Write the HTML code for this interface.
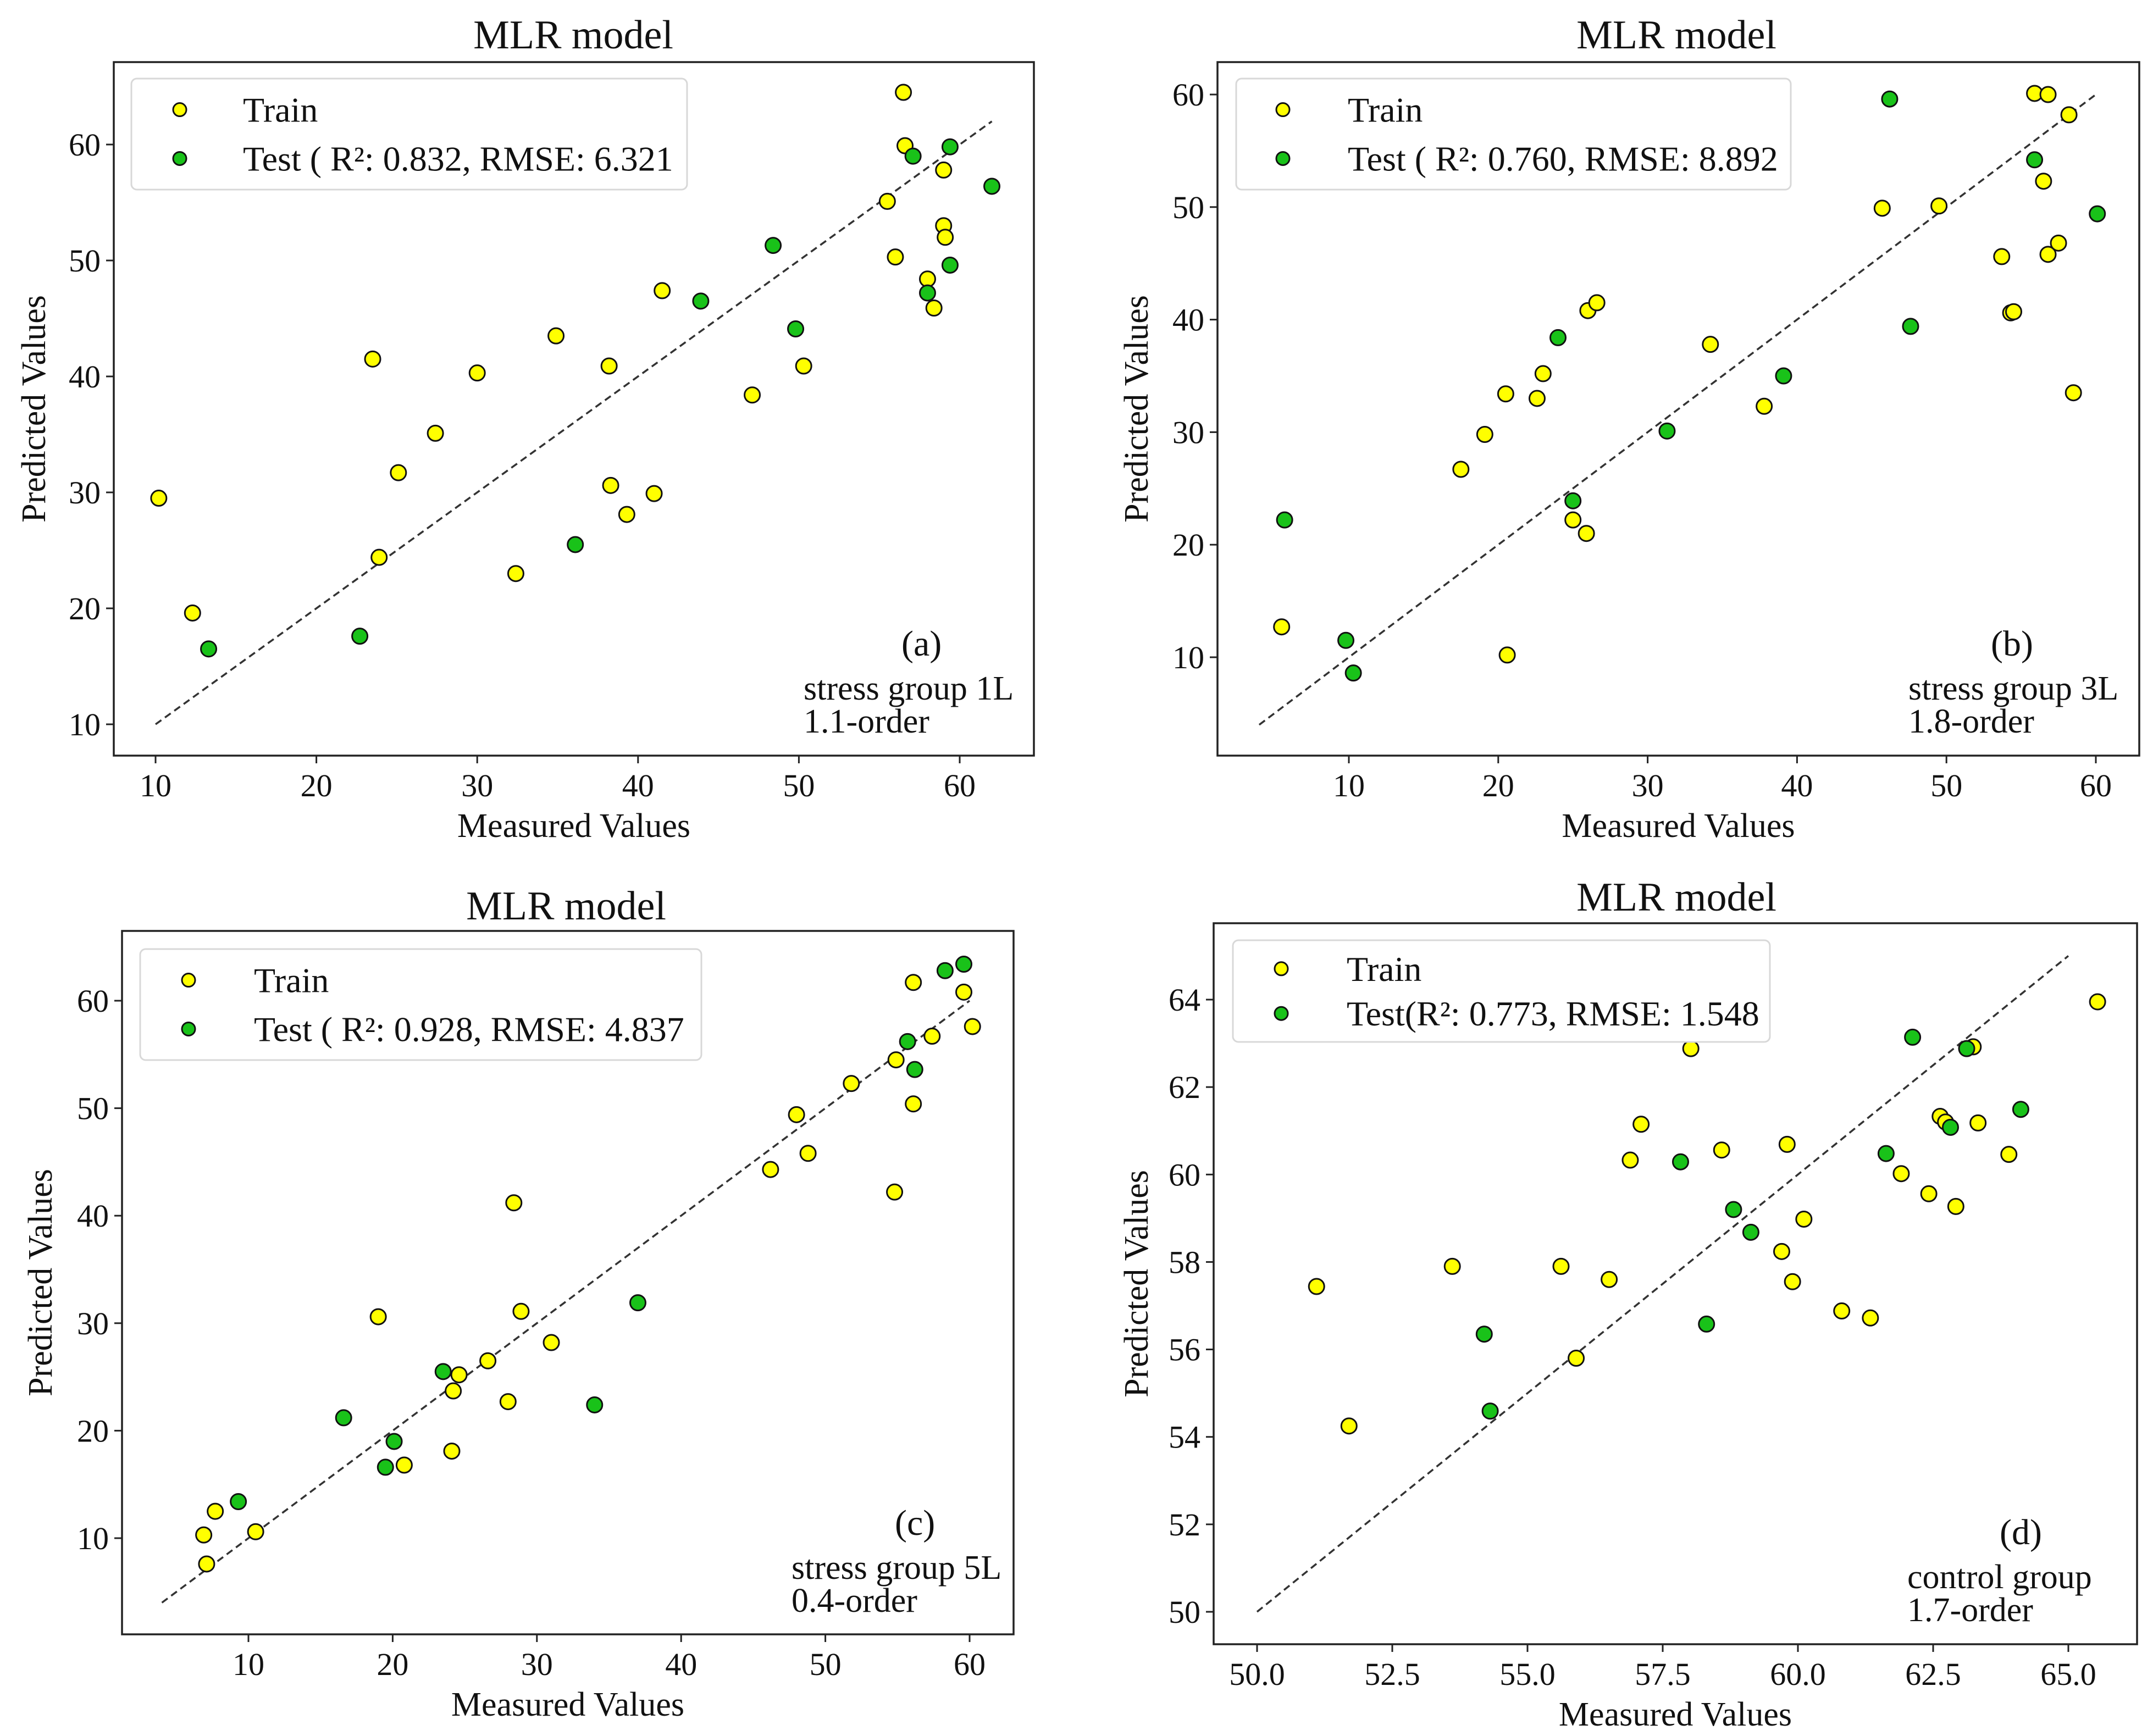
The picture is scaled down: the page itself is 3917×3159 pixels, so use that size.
<!DOCTYPE html>
<html><head><meta charset="utf-8"><style>
html,body{margin:0;padding:0;background:#fff}
svg{display:block}
text{font-family:"Liberation Serif",serif;fill:#111}
</style></head><body>
<svg id="fig" width="3917" height="3159" viewBox="0 0 3917 3159" xmlns="http://www.w3.org/2000/svg"></svg>
<script>
// ---- Panel (a) data ----
const aTrainX=[10.2,12.3,23.5,23.9,25.1,27.4,30,32.4,34.9,38.2,38.3,39.3,41,41.5,47.1,50.3,55.5,56,56.5,56.6,58,58.4,59,59,59.1];
const aTrainY=[29.5,19.6,41.5,24.4,31.7,35.1,40.3,23,43.5,40.9,30.6,28.1,29.9,47.4,38.4,40.9,55.1,50.3,64.5,59.9,48.4,45.9,57.8,53,52];
const aTestX=[13.3,22.7,36.1,43.9,48.4,49.8,57.1,58,59.4,59.4,62];
const aTestY=[16.5,17.6,25.5,46.5,51.3,44.1,59,47.2,49.6,59.8,56.4];
const aXTicks=[10,20,30,40,50,60];
const aYTicks=[10,20,30,40,50,60];
// ---- Panel (b) data ----
const bTrainX=[5.5,17.5,19.1,20.5,20.6,22.6,23,25,25.9,26,26.6,34.2,37.8,45.7,49.5,53.7,54.3,54.5,55.9,56.5,56.8,56.8,57.5,58.2,58.5];
const bTrainY=[12.7,26.7,29.8,33.4,10.2,33,35.2,22.2,21,40.8,41.5,37.8,32.3,49.9,50.1,45.6,40.6,40.7,60.1,52.3,45.8,60,46.8,58.2,33.5];
const bTestX=[5.7,9.8,10.3,24,25,31.3,39.1,46.2,47.6,55.9,60.1];
const bTestY=[22.2,11.5,8.6,38.4,23.9,30.1,35,59.6,39.4,54.2,49.4];
const bXTicks=[10,20,30,40,50,60];
const bYTicks=[10,20,30,40,50,60];
// ---- Panel (c) data ----
const cTrainX=[6.9,7.1,7.7,10.5,19,20.8,24.1,24.2,24.6,26.6,28,28.4,28.9,31,46.2,48,48.8,51.8,54.8,54.9,56.1,56.1,57.4,59.6,60.2];
const cTrainY=[10.3,7.6,12.5,10.6,30.6,16.8,18.1,23.7,25.2,26.5,22.7,41.2,31.1,28.2,44.3,49.4,45.8,52.3,42.2,54.5,50.4,61.7,56.7,60.8,57.6];
const cTestX=[9.3,16.6,19.5,20.1,23.5,34,37,55.7,56.2,58.3,59.6];
const cTestY=[13.4,21.2,16.6,19,25.5,22.4,31.9,56.2,53.6,62.8,63.4];
const cXTicks=[10,20,30,40,50,60];
const cYTicks=[10,20,30,40,50,60];
// ---- Panel (d) data ----
const dTrainX=[51.1,51.7,53.61,55.62,55.9,56.51,56.9,57.1,58.02,58.59,59.7,59.8,59.9,60.11,60.81,61.34,61.91,62.42,62.63,62.73,62.92,63.24,63.33,63.9,65.54];
const dTrainY=[57.44,54.25,57.9,57.9,55.8,57.6,60.33,61.15,62.88,60.56,58.24,60.69,57.55,58.98,56.88,56.72,60.02,59.56,61.33,61.2,59.27,62.92,61.18,60.46,63.95];
const dTestX=[54.2,54.31,57.83,58.31,58.81,59.13,61.63,62.12,62.82,63.12,64.12];
const dTestY=[56.35,54.59,60.29,56.58,59.2,58.68,60.48,63.14,61.08,62.88,61.49];
const dXTicks=[50,52.5,55,57.5,60,62.5,65];
const dYTicks=[50,52,54,56,58,60,62,64];

const NS="http://www.w3.org/2000/svg";
const svg=document.getElementById('fig');
function mk(tag,attrs,parent){const e=document.createElementNS(NS,tag);for(const k in attrs)e.setAttribute(k,attrs[k]);(parent||svg).appendChild(e);return e;}

function panel(p){
  const g=mk('g',{});
  
  
  const sx=v=>p.x0px+(v-p.x0v)*(p.x1px-p.x0px)/(p.x1v-p.x0v);
  const sy=v=>p.y0px+(v-p.y0v)*(p.y1px-p.y0px)/(p.y1v-p.y0v);
  const t=mk('text',{x:p.titleX,y:p.titleY,'text-anchor':'middle','font-size':74},g);t.textContent='MLR model';
  
  
  const dl=mk('line',{x1:sx(p.d0),y1:sy(p.d0),x2:sx(p.d1),y2:sy(p.d1),stroke:'#333','stroke-width':3.5,'stroke-dasharray':'13,8'},g);
  
  
  const pts=(xs,ys,fill,name)=>{for(let i=0;i<xs.length;i++){const c=mk('circle',{cx:sx(xs[i]),cy:sy(ys[i]),r:14,fill:fill,stroke:'#111','stroke-width':3},g);
    
    }};
  pts(p.trX,p.trY,'#ffff00','train-point');
  pts(p.teX,p.teY,'#19c219','test-point');
  const fr=mk('rect',{x:p.L,y:p.T,width:p.R-p.L,height:p.B-p.T,fill:'none',stroke:'#222','stroke-width':3.5},g);
  
  
  p.xt.forEach(v=>{const x=sx(v);mk('line',{x1:x,y1:p.B,x2:x,y2:p.B+14,stroke:'#222','stroke-width':3},g);
    const tx=mk('text',{x:x,y:p.B+74,'text-anchor':'middle','font-size':58},g);tx.textContent=p.xfmt?v.toFixed(1):v;
    
    });
  p.yt.forEach(v=>{const y=sy(v);mk('line',{x1:p.L,y1:y,x2:p.L-14,y2:y,stroke:'#222','stroke-width':3},g);
    const ty=mk('text',{x:p.L-24,y:y+20,'text-anchor':'end','font-size':58},g);ty.textContent=v;
    
    });
  const xl=mk('text',{x:(p.L+p.R)/2,y:p.B+148,'text-anchor':'middle','font-size':62},g);xl.textContent='Measured Values';
  
  
  const yc=(p.T+p.B)/2;
  const yl=mk('text',{x:p.ylX,y:yc,'text-anchor':'middle','font-size':62,transform:`rotate(-90 ${p.ylX} ${yc})`},g);yl.textContent='Predicted Values';
  
  
  const lg=mk('g',{},g);
  
  
  mk('rect',{x:p.lgL,y:p.lgT,width:p.lgR-p.lgL,height:p.lgB-p.lgT,rx:10,fill:'#fff',stroke:'#d8d8d8','stroke-width':3},lg);
  const r1=p.lgT+(p.lgB-p.lgT)*0.28, r2=p.lgT+(p.lgB-p.lgT)*0.72;
  mk('circle',{cx:p.lgM,cy:r1,r:12,fill:'#ffff00',stroke:'#111','stroke-width':3},lg);
  mk('circle',{cx:p.lgM,cy:r2,r:12,fill:'#19c219',stroke:'#111','stroke-width':3},lg);
  const l1=mk('text',{x:p.lgTx,y:r1+22,'font-size':64},lg);l1.textContent='Train';
  
  
  const l2=mk('text',{x:p.lgTx,y:r2+22,'font-size':64},lg);l2.textContent=p.testLabel;
  
  
  const a1=mk('text',{x:p.anX,y:p.anY,'font-size':66},g);a1.textContent=p.letter;
  
  
  const a2=mk('text',{x:p.an2X,y:p.anY+80,'font-size':62},g);a2.textContent=p.line1;
  
  
  const a3=mk('text',{x:p.an2X,y:p.anY+140,'font-size':62},g);a3.textContent=p.line2;
  
  
}

panel({id:'a',L:207,R:1881,T:113,B:1375,x0v:10,x0px:283,x1v:60,x1px:1746,y0v:10,y0px:1318,y1v:60,y1px:263,
  trX:aTrainX,trY:aTrainY,teX:aTestX,teY:aTestY,xt:aXTicks,yt:aYTicks,d0:10,d1:62,
  titleX:1043,titleY:88,ylX:82,lgL:239,lgR:1250,lgT:143,lgB:345,lgM:327,lgTx:442,
  testLabel:'Test ( R²: 0.832, RMSE: 6.321',anX:1640,anY:1193,an2X:1462,letter:'(a)',line1:'stress group 1L',line2:'1.1-order'});
panel({id:'b',L:2215,R:3892,T:113,B:1375,x0v:10,x0px:2454,x1v:60,x1px:3813,y0v:10,y0px:1196,y1v:60,y1px:172,
  trX:bTrainX,trY:bTrainY,teX:bTestX,teY:bTestY,xt:bXTicks,yt:bYTicks,d0:4,d1:60,
  titleX:3050,titleY:88,ylX:2088,lgL:2249,lgR:3258,lgT:143,lgB:345,lgM:2334,lgTx:2452,
  testLabel:'Test ( R²: 0.760, RMSE: 8.892',anX:3622,anY:1193,an2X:3472,letter:'(b)',line1:'stress group 3L',line2:'1.8-order'});
panel({id:'c',L:222,R:1844,T:1694,B:2974,x0v:10,x0px:452,x1v:60,x1px:1764,y0v:10,y0px:2799,y1v:60,y1px:1821,
  trX:cTrainX,trY:cTrainY,teX:cTestX,teY:cTestY,xt:cXTicks,yt:cYTicks,d0:4,d1:60,
  titleX:1030,titleY:1673,ylX:94,lgL:255,lgR:1276,lgT:1727,lgB:1929,lgM:343,lgTx:462,
  testLabel:'Test ( R²: 0.928, RMSE: 4.837',anX:1628,anY:2793,an2X:1440,letter:'(c)',line1:'stress group 5L',line2:'0.4-order'});
panel({id:'d',L:2208,R:3888,T:1680,B:2992,x0v:50,x0px:2287,x1v:65,x1px:3763,y0v:50,y0px:2933,y1v:64,y1px:1819,xfmt:true,
  trX:dTrainX,trY:dTrainY,teX:dTestX,teY:dTestY,xt:dXTicks,yt:dYTicks,d0:50,d1:65,
  titleX:3050,titleY:1657,ylX:2088,lgL:2243,lgR:3220,lgT:1711,lgB:1896,lgM:2331,lgTx:2450,
  testLabel:'Test(R²: 0.773, RMSE: 1.548',anX:3638,anY:2810,an2X:3470,letter:'(d)',line1:'control group',line2:'1.7-order'});
</script>
</body></html>
